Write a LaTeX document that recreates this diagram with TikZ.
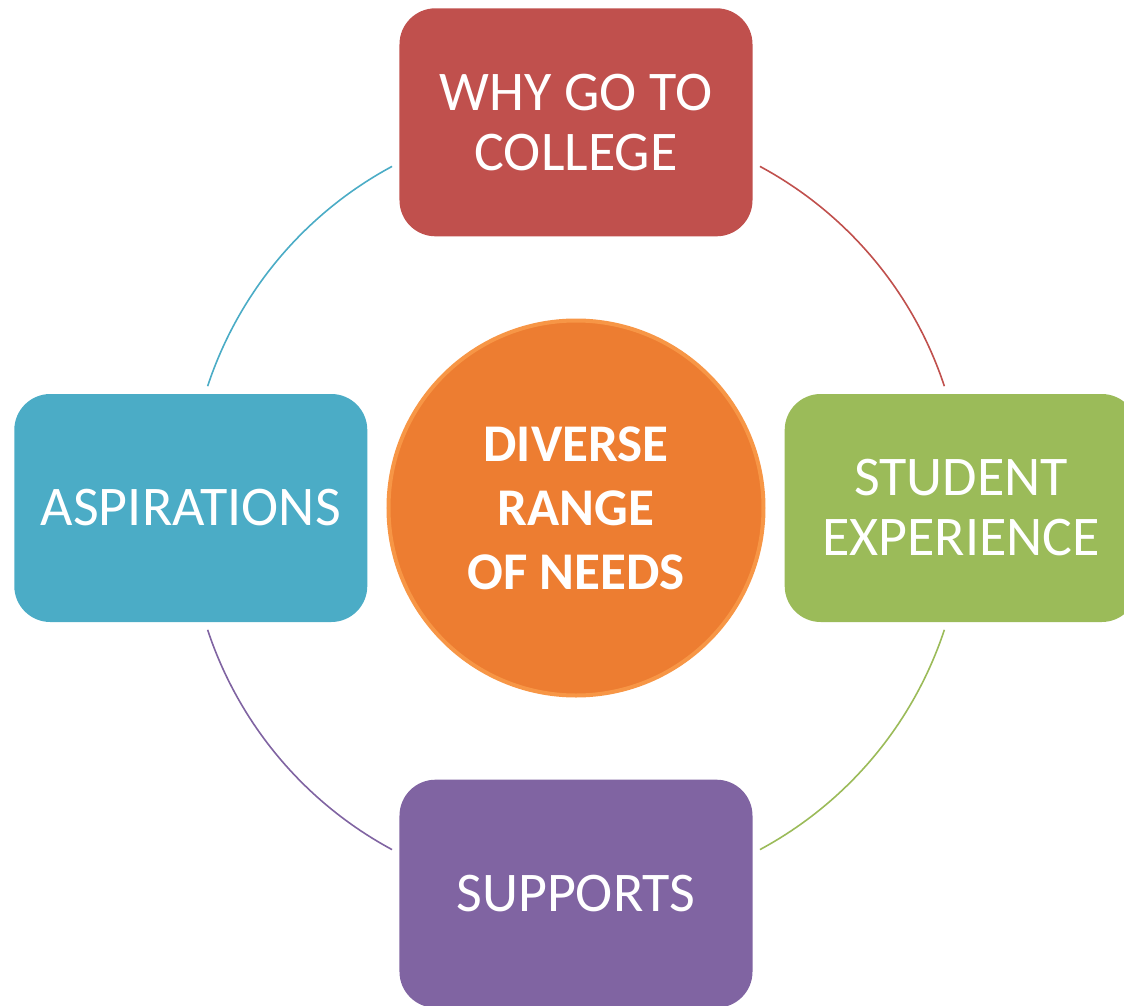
\documentclass[tikz,border=0pt]{standalone}
\usepackage{fontspec}
\setmainfont{Carlito}
\usetikzlibrary{positioning}

\definecolor{whyred}{HTML}{C0504D}
\definecolor{aspblue}{HTML}{4BACC6}
\definecolor{expgreen}{HTML}{9BBB59}
\definecolor{suppurple}{HTML}{8064A2}
\definecolor{hubfill}{HTML}{ED7D31}
\definecolor{hubedge}{HTML}{F79646}

\begin{document}
\begin{tikzpicture}[x=1pt,y=1pt,
  card/.style={rectangle,rounded corners=36pt,minimum width=353pt,minimum height=228pt,
    inner sep=0pt,text=white,align=center,font=\fontsize{56}{60}\selectfont},
  hub/.style={circle,fill=hubfill,draw=hubedge,line width=4pt,minimum size=375pt,
    inner sep=0pt,text=white,align=center,font=\bfseries\fontsize{53}{64}\selectfont},
  ring/.style={line width=1.6pt}]
\clip (-576,-497) rectangle (548,508);
\node[hub] (needs) at (0,0) {DIVERSE\\RANGE\\OF NEEDS};
\node[card,fill=whyred,above=82pt of needs] (why) {WHY GO TO\\COLLEGE};
\node[card,fill=aspblue,left=19pt of needs] (asp) {ASPIRATIONS};
\node[card,fill=expgreen,right=19pt of needs] (exp) {STUDENT\\EXPERIENCE};
\node[card,fill=suppurple,below=82pt of needs] (sup) {SUPPORTS};
% ring pieces between the cards
\coordinate (why-exp) at (61.7:388);
\coordinate (exp-sup) at (-18.3:388);
\coordinate (sup-asp) at (241.7:388);
\coordinate (asp-why) at (118.3:388);
\draw[ring,whyred] (why-exp) arc[start angle=61.7,end angle=18.3,radius=388];
\draw[ring,expgreen] (exp-sup) arc[start angle=-18.3,end angle=-61.7,radius=388];
\draw[ring,suppurple] (sup-asp) arc[start angle=241.7,end angle=198.3,radius=388];
\draw[ring,aspblue] (asp-why) arc[start angle=118.3,end angle=161.7,radius=388];
\end{tikzpicture}
\end{document}
